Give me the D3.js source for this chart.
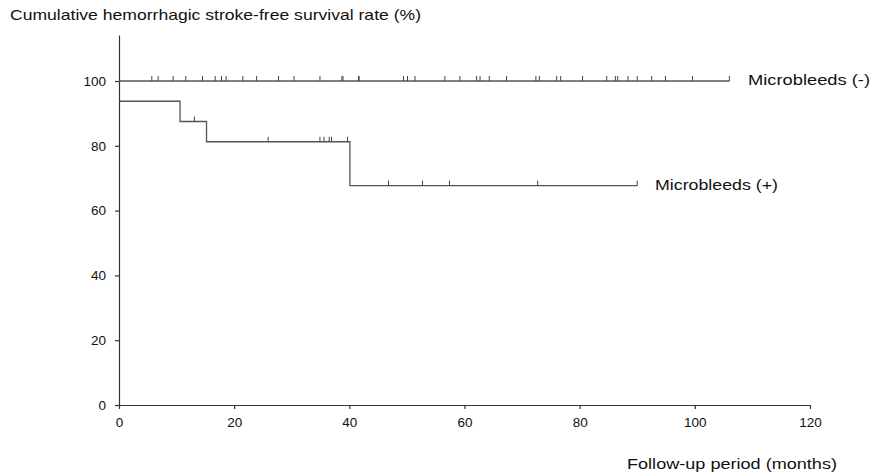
<!DOCTYPE html>
<html lang="en">
<head>
<meta charset="UTF-8">
<title>Hemorrhagic stroke-free survival</title>
<script src="https://d3js.org/d3.v7.min.js"></script>
<style>
  body, html { margin: 0; padding: 0; background: #fff; overflow: hidden; }
  text { font-family: "Liberation Sans", Arial, sans-serif; fill: #111; }
  .axis path, .axis line { stroke: #333; stroke-width: 1.2px; }
  .axis text { font-size: 13.5px; }
</style>
</head>
<body>
<svg id="chart" width="871" height="476"></svg>
<script>
// x ticks and y ticks
const xTicks = [0, 20, 40, 60, 80, 100, 120];
const yTicks = [0, 20, 40, 60, 80, 100];

// Microbleeds (-): step points [month, %] and censor times
const negSteps = [[0, 100], [106, 100]];
const negCensor = [5.7, 6.8, 9.4, 11.6, 14.5, 16.7, 17.8, 18.6, 21.5, 23.9, 27.7, 30.4, 34.9,
  38.7, 38.9, 41.6, 41.7, 49.4, 50.1, 51.4, 56.6, 59.2, 62.1, 62.7, 64.3, 67.3, 72.4, 73.0,
  76.0, 76.7, 80.5, 84.7, 86.2, 86.6, 88.4, 90.0, 92.5, 94.9, 99.6, 106];

// Microbleeds (+)
const posSteps = [[0, 93.75], [10.6, 87.5], [15.2, 81.25], [40.1, 67.7], [90, 67.7]];
const posCensor = [[13.1, 87.5], [25.9, 81.25], [34.9, 81.25], [35.6, 81.25], [36.5, 81.25],
  [36.9, 81.25], [39.7, 81.25], [46.8, 67.7], [52.7, 67.7], [57.4, 67.7], [72.7, 67.7], [90, 67.7]];

const svg = d3.select("#chart");
const x = d3.scaleLinear().domain([0, 120]).range([119, 810]);
const y = d3.scaleLinear().domain([0, 114.2]).range([405, 35]);

// axes
svg.append("g").attr("class", "axis")
  .attr("transform", "translate(0,405)")
  .call(d3.axisBottom(x).tickValues(xTicks).tickSize(4).tickPadding(8).tickSizeOuter(0));

svg.append("g").attr("class", "axis")
  .attr("transform", "translate(119,0)")
  .call(d3.axisLeft(y).tickValues(yTicks).tickSize(4).tickPadding(9).tickSizeOuter(0));

// survival curves
const line = d3.line().x(d => x(d[0])).y(d => y(d[1])).curve(d3.curveStepAfter);

svg.append("path").datum(negSteps)
  .attr("d", line).attr("fill", "none").attr("stroke", "#555").attr("stroke-width", 1.3);
svg.append("path").datum(posSteps)
  .attr("d", line).attr("fill", "none").attr("stroke", "#555").attr("stroke-width", 1.3);

// censor marks
svg.append("g").selectAll("line").data(negCensor).join("line")
  .attr("x1", d => x(d)).attr("x2", d => x(d))
  .attr("y1", y(100)).attr("y2", y(100) - 5)
  .attr("stroke", "#444").attr("stroke-width", 1);

svg.append("g").selectAll("line").data(posCensor).join("line")
  .attr("x1", d => x(d[0])).attr("x2", d => x(d[0]))
  .attr("y1", d => y(d[1])).attr("y2", d => y(d[1]) - 5)
  .attr("stroke", "#444").attr("stroke-width", 1);

// labels (scanned text is a bit wide, so stretch to the measured widths)
function label(txt, x0, y0, size, len) {
  svg.append("text").attr("x", x0).attr("y", y0)
    .attr("font-size", size)
    .attr("textLength", len).attr("lengthAdjust", "spacingAndGlyphs")
    .text(txt);
}
label("Microbleeds (-)", 748, y(100) + 4, 15, 122);
label("Microbleeds (+)", 655, y(67.7) + 4, 15, 123);
label("Cumulative hemorrhagic stroke-free survival rate (%)", 10, 20, 15, 411);
label("Follow-up period (months)", 627, 469, 15, 210);
</script>
</body>
</html>
